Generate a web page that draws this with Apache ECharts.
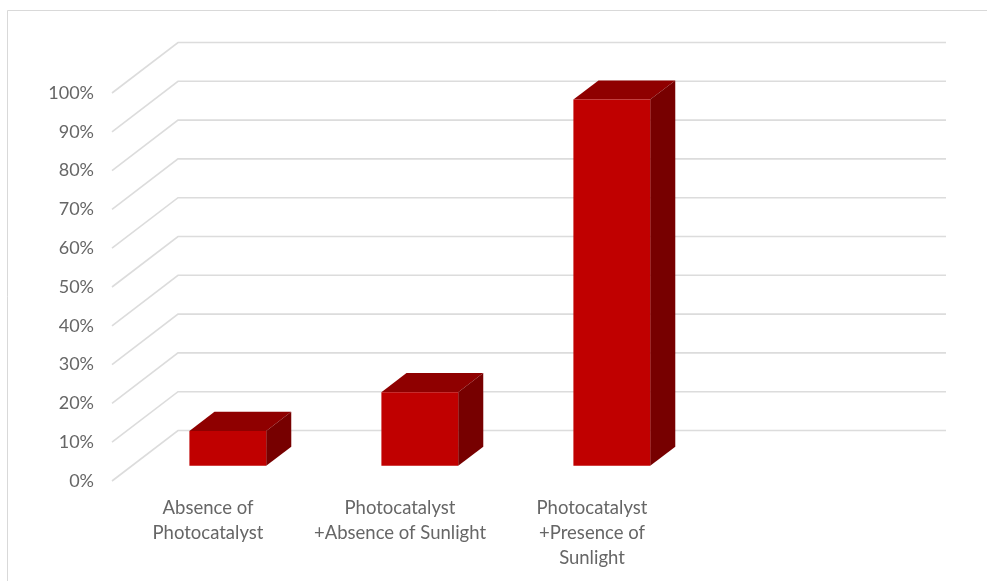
<!DOCTYPE html>
<html>
<head>
<meta charset="utf-8">
<script src="https://cdn.jsdelivr.net/npm/echarts@6/dist/echarts.min.js"></script>
<style>
  html, body { margin: 0; padding: 0; background: #ffffff; }
  #chart { width: 987px; height: 581px; }
</style>
</head>
<body>
<div id="chart"></div>
<script>
// Treatment conditions (the last, empty slot keeps the floor as wide as four categories)
const categories = [
  'Absence of\nPhotocatalyst',
  'Photocatalyst\n+Absence of Sunlight',
  'Photocatalyst\n+Presence of\nSunlight',
  ''
];
// Removal fraction for each condition
const removal = [0.09, 0.19, 0.944];
// Value-axis ticks and their labels
const yTicks = [0, 0.1, 0.2, 0.3, 0.4, 0.5, 0.6, 0.7, 0.8, 0.9, 1.0];
const tickLabels = ['0%', '10%', '20%', '30%', '40%', '50%', '60%', '70%', '80%', '90%', '100%'];

// Oblique projection used for the 3-D look: offset of the back wall from the front plane
const DEPTH_X = 66;
const DEPTH_Y = -50.5;
// Bars sit between these fractions of the floor depth
const BAR_FRONT = 0.30;
const BAR_BACK = 0.68;
const BAR_WIDTH_RATIO = 0.4;

const FONT = 'Lato';
const TEXT_COLOR = '#666666';
const GRID_COLOR = '#dcdcdc';

const chart = echarts.init(document.getElementById('chart'), null, { renderer: 'canvas' });

// Floor-to-wall gridlines: a diagonal along the side wall, then a line across the back wall
function renderGridline(params, api) {
  const v = api.value(1);
  const first = api.coord([0, v]);
  const last = api.coord([categories.length - 1, v]);
  const band = api.size([1, 0])[0];
  const left = first[0] - band / 2;
  const right = last[0] + band / 2;
  const y = first[1];
  return {
    type: 'polyline',
    shape: {
      points: [
        [left, y],
        [left + DEPTH_X, y + DEPTH_Y],
        [right + DEPTH_X, y + DEPTH_Y]
      ]
    },
    style: { stroke: GRID_COLOR, lineWidth: 1.6, fill: null },
    silent: true
  };
}

// Three-face box for each bar: front, top and right side
function renderBar(params, api) {
  const i = api.value(0);
  const v = api.value(1);
  const base = api.coord([i, 0]);
  const topPt = api.coord([i, v]);
  const band = api.size([1, 0])[0];
  const w = band * BAR_WIDTH_RATIO;
  const fx = base[0] - w / 2 + DEPTH_X * BAR_FRONT;
  const fy0 = base[1] + DEPTH_Y * BAR_FRONT;
  const fy1 = topPt[1] + DEPTH_Y * BAR_FRONT;
  const dx = DEPTH_X * (BAR_BACK - BAR_FRONT);
  const dy = DEPTH_Y * (BAR_BACK - BAR_FRONT);
  return {
    type: 'group',
    children: [
      {
        type: 'polygon',
        shape: { points: [[fx, fy1], [fx + w, fy1], [fx + w + dx, fy1 + dy], [fx + dx, fy1 + dy]] },
        style: { fill: '#8f0000' }
      },
      {
        type: 'polygon',
        shape: { points: [[fx + w, fy1], [fx + w, fy0], [fx + w + dx, fy0 + dy], [fx + w + dx, fy1 + dy]] },
        style: { fill: '#770000' }
      },
      {
        type: 'rect',
        shape: { x: fx, y: fy1, width: w, height: fy0 - fy1 },
        style: { fill: '#c00000' }
      }
    ]
  };
}

chart.setOption({
  backgroundColor: '#ffffff',
  animation: false,
  graphic: [
    {
      type: 'rect',
      shape: { x: 7.5, y: 10.5, width: 1000, height: 600 },
      style: { fill: null, stroke: '#d9d9d9', lineWidth: 1 },
      silent: true,
      z: -10
    }
  ],
  grid: { left: 112, right: 107, top: 93, bottom: 100 },
  xAxis: {
    type: 'category',
    data: categories,
    axisLine: { show: false },
    axisTick: { show: false },
    splitLine: { show: false },
    axisLabel: {
      interval: 0,
      margin: 15,
      fontFamily: FONT,
      fontSize: 18.5,
      lineHeight: 25,
      color: TEXT_COLOR,
      align: 'center'
    }
  },
  yAxis: {
    type: 'value',
    min: 0,
    max: 1,
    interval: 0.1,
    axisLine: { show: false },
    axisTick: { show: false },
    splitLine: { show: false },
    axisLabel: {
      margin: 18,
      fontFamily: FONT,
      fontSize: 18,
      color: TEXT_COLOR,
      formatter: function (v) {
        const idx = yTicks.findIndex(function (t) { return Math.abs(t - v) < 1e-9; });
        return idx >= 0 ? tickLabels[idx] : '';
      }
    }
  },
  series: [
    {
      type: 'custom',
      name: 'gridlines',
      renderItem: renderGridline,
      data: yTicks.map(function (t) { return [0, t]; }),
      z: 1,
      silent: true,
      clip: false
    },
    {
      type: 'custom',
      name: 'Removal',
      renderItem: renderBar,
      data: removal.map(function (v, i) { return [i, v]; }),
      z: 2,
      clip: false
    }
  ]
});
</script>
</body>
</html>
